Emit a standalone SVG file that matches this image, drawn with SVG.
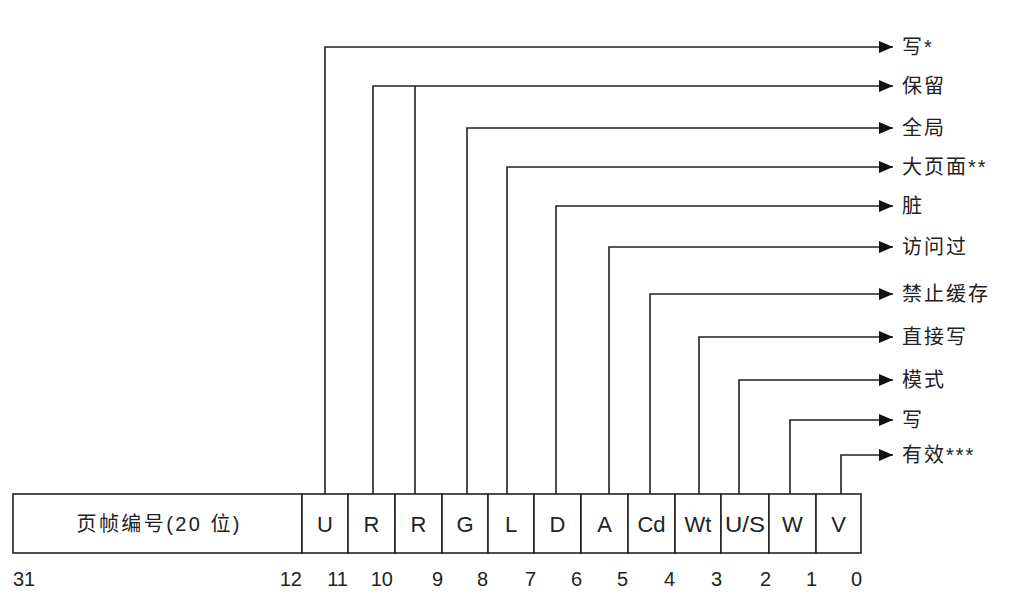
<svg xmlns="http://www.w3.org/2000/svg" width="1028" height="598" viewBox="0 0 1028 598">
<defs>
<style>
.ln{fill:none;stroke:#222;stroke-width:1.6}
.bx{fill:#fff;stroke:#222;stroke-width:1.6}
.cell{font-family:"Liberation Sans","Noto Sans CJK SC",sans-serif;font-size:22px;fill:#222;text-anchor:middle}
.frm{font-family:"Liberation Sans","Noto Sans CJK SC",sans-serif;font-size:20px;fill:#222;text-anchor:middle}
.num{font-family:"Liberation Sans",sans-serif;font-size:20px;fill:#222;text-anchor:end}
.lbl{font-family:"Liberation Sans","Noto Sans CJK SC",sans-serif;font-size:20px;fill:#222;letter-spacing:2px}
</style>
<marker id="ah" viewBox="0 0 14 12" refX="14" refY="6" markerWidth="14" markerHeight="12" markerUnits="userSpaceOnUse" orient="auto">
<path d="M0,0 L14,6 L0,12 Z" fill="#111"/>
</marker>
</defs>
<rect width="1028" height="598" fill="#fff"/>
<g id="connectors">
<path class="ln" marker-end="url(#ah)" d="M325,494 V47 H893"/>
<path class="ln" marker-end="url(#ah)" d="M373,494 V86 H893"/>
<path class="ln" d="M415,494 V86"/>
<path class="ln" marker-end="url(#ah)" d="M467,494 V128 H893"/>
<path class="ln" marker-end="url(#ah)" d="M507,494 V167 H893"/>
<path class="ln" marker-end="url(#ah)" d="M556,494 V206 H893"/>
<path class="ln" marker-end="url(#ah)" d="M609,494 V247 H893"/>
<path class="ln" marker-end="url(#ah)" d="M650,494 V294 H893"/>
<path class="ln" marker-end="url(#ah)" d="M699,494 V337 H893"/>
<path class="ln" marker-end="url(#ah)" d="M739,494 V380 H893"/>
<path class="ln" marker-end="url(#ah)" d="M790,494 V420 H893"/>
<path class="ln" marker-end="url(#ah)" d="M841,494 V455 H893"/>
</g>
<g id="register">
<g id="frame"><rect class="bx" x="13" y="494" width="289" height="59"/><text class="frm" x="158" y="531" textLength="163" lengthAdjust="spacing">页帧编号(20 位)</text></g>
<g id="bitU"><rect class="bx" x="302" y="494" width="46" height="59"/><text class="cell" x="325" y="532">U</text></g>
<g id="bitR10"><rect class="bx" x="348" y="494" width="47" height="59"/><text class="cell" x="371.5" y="532">R</text></g>
<g id="bitR9"><rect class="bx" x="395" y="494" width="47" height="59"/><text class="cell" x="418.5" y="532">R</text></g>
<g id="bitG"><rect class="bx" x="442" y="494" width="46" height="59"/><text class="cell" x="465" y="532">G</text></g>
<g id="bitL"><rect class="bx" x="488" y="494" width="46" height="59"/><text class="cell" x="511" y="532">L</text></g>
<g id="bitD"><rect class="bx" x="534" y="494" width="47" height="59"/><text class="cell" x="557.5" y="532">D</text></g>
<g id="bitA"><rect class="bx" x="581" y="494" width="47" height="59"/><text class="cell" x="604.5" y="532">A</text></g>
<g id="bitCd"><rect class="bx" x="628" y="494" width="47" height="59"/><text class="cell" x="651.5" y="532">Cd</text></g>
<g id="bitWt"><rect class="bx" x="675" y="494" width="46" height="59"/><text class="cell" x="698" y="532">Wt</text></g>
<g id="bitUS"><rect class="bx" x="721" y="494" width="48" height="59"/><text class="cell" x="745" y="532" textLength="40" lengthAdjust="spacingAndGlyphs">U/S</text></g>
<g id="bitW"><rect class="bx" x="769" y="494" width="47" height="59"/><text class="cell" x="792.5" y="532">W</text></g>
<g id="bitV"><rect class="bx" x="816" y="494" width="45" height="59"/><text class="cell" x="838.5" y="532">V</text></g>
</g>
<g id="bitnumbers">
<text class="num" x="13" y="586" style="text-anchor:start">31</text>
<text class="num" x="302" y="586">12</text>
<text class="num" x="348" y="586">11</text>
<text class="num" x="393" y="586">10</text>
<text class="num" x="443" y="586">9</text>
<text class="num" x="488" y="586">8</text>
<text class="num" x="536" y="586">7</text>
<text class="num" x="582" y="586">6</text>
<text class="num" x="628" y="586">5</text>
<text class="num" x="675" y="586">4</text>
<text class="num" x="722" y="586">3</text>
<text class="num" x="771" y="586">2</text>
<text class="num" x="817" y="586">1</text>
<text class="num" x="862" y="586">0</text>
</g>
<g id="labels">
<text class="lbl" x="902" y="54">写*</text>
<text class="lbl" x="902" y="93">保留</text>
<text class="lbl" x="902" y="135">全局</text>
<text class="lbl" x="902" y="174">大页面**</text>
<text class="lbl" x="902" y="213">脏</text>
<text class="lbl" x="902" y="254">访问过</text>
<text class="lbl" x="902" y="301">禁止缓存</text>
<text class="lbl" x="902" y="344">直接写</text>
<text class="lbl" x="902" y="387">模式</text>
<text class="lbl" x="902" y="427">写</text>
<text class="lbl" x="902" y="462">有效***</text>
</g>
</svg>
